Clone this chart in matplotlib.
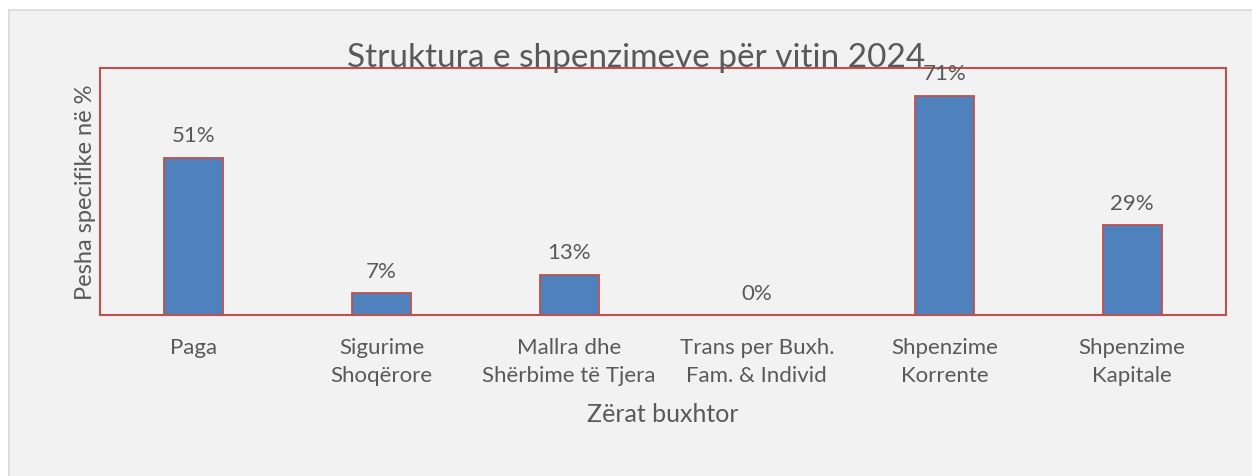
import matplotlib.pyplot as plt
from matplotlib.patches import Rectangle

# Zërat buxhtor dhe pesha specifike
kategorite = [
    "Paga",
    "Sigurime\nShoqërore",
    "Mallra dhe\nShërbime të Tjera",
    "Trans per Buxh.\nFam. & Individ",
    "Shpenzime\nKorrente",
    "Shpenzime\nKapitale",
]
pesha = [0.51, 0.07, 0.13, 0.00, 0.71, 0.29]

ngjyra_teksti = "#595959"
ngjyra_kuqe = "#C0504D"

plt.rcParams['font.family'] = ['Lato', 'DejaVu Sans']

fig = plt.figure(figsize=(12.52, 4.77), dpi=100)
fig.patch.set_facecolor("white")

# Sfondi gri i zonës së grafikut
fig.patches.append(Rectangle((9 / 1252, -0.1), 1.2, 1 - 11 / 477 + 0.1,
                             transform=fig.transFigure, facecolor="#F2F2F2",
                             edgecolor="#D9D9D9", linewidth=1.2, zorder=-5))

ax = fig.add_axes([100 / 1252, 1 - 316 / 477, 1126 / 1252, 247 / 477])
ax.set_facecolor("#F2F2F2")

x = range(len(kategorite))
bars = ax.bar(x, pesha, width=0.315, color="#4F81BD", edgecolor=ngjyra_kuqe,
              linewidth=1.3, zorder=2)

for bar, v in zip(bars, pesha):
    ax.annotate(f"{v:.0%}", (bar.get_x() + bar.get_width() / 2, v),
                xytext=(0, 9), textcoords="offset points",
                ha="center", va="bottom", fontsize=16, color=ngjyra_teksti,
                zorder=3, annotation_clip=False)

ax.set_xlim(-0.5, len(kategorite) - 0.5)
ax.set_ylim(0, 0.8)
ax.set_yticks([])
ax.set_xticks(list(x))
ax.set_xticklabels(kategorite, fontsize=16, color=ngjyra_teksti, linespacing=1.5)
ax.tick_params(axis="x", length=0, pad=16)

for s in ax.spines.values():
    s.set_color(ngjyra_kuqe)
    s.set_linewidth(1.5)

ax.set_xlabel("Zërat buxhtor", fontsize=18, color=ngjyra_teksti, labelpad=12)
ax.set_ylabel("Pesha specifike në %", fontsize=17, color=ngjyra_teksti, labelpad=3)

fig.text(0.508, 1 - 67 / 477, "Struktura e shpenzimeve për vitin 2024",
         ha="center", va="baseline", fontsize=24, color=ngjyra_teksti)

fig.savefig("out.png", dpi=100, facecolor=fig.get_facecolor())
